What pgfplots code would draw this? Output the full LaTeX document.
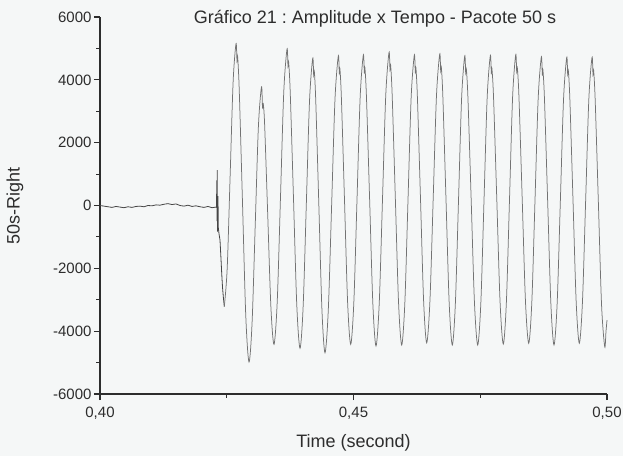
\documentclass[border=0pt]{standalone}
\usepackage{pgfplots}
\pgfplotsset{compat=1.18}
\usepackage{fontspec}
\setmainfont{Liberation Sans}
\frenchspacing
\definecolor{bg}{RGB}{245,247,247}
\definecolor{axc}{RGB}{45,45,45}
\definecolor{sig}{RGB}{115,115,115}
\definecolor{sigdark}{RGB}{70,70,70}
\begin{document}
\begin{tikzpicture}
\path[fill=bg,use as bounding box] (-100pt,-62pt) rectangle (523pt,394pt);
\begin{axis}[
  at={(0pt,0pt)}, anchor=south west,
  scale only axis, width=507pt, height=377pt,
  xmin=0.40, xmax=0.50, ymin=-6000, ymax=6000,
  axis lines=left, axis line style={-, axc, line width=1.1pt},
  tick align=outside,
  major tick length=6pt, minor tick length=3.5pt,
  every tick/.style={axc, line width=1.1pt},
  xtick={0.40,0.45,0.50}, xticklabels={{0,40},{0,45},{0,50}},
  minor xtick={0.425,0.475},
  ytick={-6000,-4000,-2000,0,2000,4000,6000},
  yticklabels={-6000,-4000,-2000,0,2000,4000,6000},
  minor ytick={-5000,-3000,-1000,1000,3000,5000},
  ticklabel style={font=\fontsize{15}{17}\selectfont, text=axc},
  xticklabel style={yshift=-3pt},
  yticklabel style={xshift=1pt},
  xlabel={Time (second)}, ylabel={50s-Right},
  every axis x label/.style={at={(axis description cs:0.5,0)}, anchor=base, yshift=-53pt, font=\fontsize{18}{20}\selectfont, text=axc},
  every axis y label/.style={at={(axis description cs:-0.1677,0.5)}, anchor=center, rotate=90, font=\fontsize{18}{20}\selectfont, text=axc},
  clip=false,
]
\addplot[sigdark, line width=0.8pt] coordinates {
(0.400000,0) (0.400789,-20) (0.401578,-40) (0.402367,-60) (0.403156,-30)
(0.403945,-50) (0.404734,-70) (0.405523,-40) (0.406312,-60) (0.407101,-30)
(0.407890,-20) (0.408679,-40) (0.409468,0) (0.410256,-10) (0.411045,20)
(0.411834,10) (0.412623,40) (0.413412,60) (0.414201,30) (0.414990,50)
(0.415779,0) (0.416568,-20) (0.417357,10) (0.418146,-30) (0.418935,-10)
(0.419724,-40) (0.420513,-60) (0.421302,-30) (0.422091,-70) (0.422880,-50)
(0.422978,-60) (0.423038,800) (0.423077,-500) (0.423117,1130) (0.423176,-830)
(0.423274,300) (0.423333,-700) (0.423472,-900) (0.423669,-1100) (0.423866,-1700)
(0.424004,-2150) (0.424162,-2600) (0.424320,-2900) (0.424517,-3220)
};
\addplot[sig, line width=0.75pt, smooth] coordinates {
(0.424517,-3220) (0.425089,-1994) (0.425671,965) (0.426253,3924)
(0.426825,5150) (0.427022,4600) (0.427140,4750) (0.427466,3666) (0.428107,85) (0.428748,-3496)
(0.429389,-4980) (0.430005,-3697) (0.430622,-600) (0.431238,2497)
(0.431854,3780) (0.432052,3100) (0.432190,3250) (0.432471,2579) (0.433087,-320) (0.433703,-3219)
(0.434320,-4420) (0.434961,-3043) (0.435602,280) (0.436243,3603)
(0.436884,4980) (0.437081,4430) (0.437199,4580) (0.437525,3585) (0.438166,218) (0.438807,-3149)
(0.439448,-4545) (0.440074,-3193) (0.440700,70) (0.441327,3333)
(0.441953,4685) (0.442150,4135) (0.442269,4285) (0.442559,3312) (0.443166,0) (0.443772,-3312)
(0.444379,-4685) (0.445035,-3301) (0.445691,38) (0.446347,3377)
(0.447002,4760) (0.447200,4210) (0.447318,4360) (0.447614,3415) (0.448225,170) (0.448837,-3075)
(0.449448,-4420) (0.450069,-3071) (0.450691,185) (0.451312,3441)
(0.451933,4790) (0.452131,4240) (0.452249,4390) (0.452560,3433) (0.453186,160) (0.453812,-3113)
(0.454438,-4470) (0.455079,-3101) (0.455720,203) (0.456361,3507)
(0.457002,4875) (0.457200,4325) (0.457318,4475) (0.457629,3511) (0.458255,218) (0.458881,-3075)
(0.459507,-4440) (0.460129,-3088) (0.460750,175) (0.461371,3438)
(0.461993,4790) (0.462190,4240) (0.462308,4390) (0.462604,3448) (0.463215,210) (0.463827,-3028)
(0.464438,-4370) (0.465079,-3024) (0.465720,225) (0.466361,3474)
(0.467002,4820) (0.467200,4270) (0.467318,4420) (0.467624,3463) (0.468245,190) (0.468866,-3083)
(0.469488,-4440) (0.470099,-3092) (0.470711,160) (0.471322,3412)
(0.471933,4760) (0.472131,4210) (0.472249,4360) (0.472574,3412) (0.473215,160) (0.473857,-3092)
(0.474498,-4440) (0.475119,-3091) (0.475740,165) (0.476361,3421)
(0.476983,4770) (0.477180,4220) (0.477298,4370) (0.477624,3425) (0.478265,180) (0.478906,-3065)
(0.479547,-4410) (0.480158,-3061) (0.480770,195) (0.481381,3451)
(0.481993,4800) (0.482190,4250) (0.482308,4400) (0.482634,3455) (0.483275,208) (0.483916,-3039)
(0.484557,-4385) (0.485178,-3050) (0.485799,170) (0.486421,3390)
(0.487042,4725) (0.487239,4175) (0.487358,4325) (0.487668,3383) (0.488294,143) (0.488921,-3097)
(0.489547,-4440) (0.490173,-3098) (0.490799,138) (0.491426,3374)
(0.492052,4715) (0.492249,4165) (0.492367,4315) (0.492673,3382) (0.493295,165) (0.493916,-3052)
(0.494537,-4385) (0.495163,-3052) (0.495790,165) (0.496416,3382)
(0.497042,4715) (0.497239,4165) (0.497358,4315) (0.497668,3366) (0.498295,110) (0.498921,-3146)
(0.499547,-4495) (0.499803,-4000) (0.500000,-3650)
};
\node[anchor=base, font=\fontsize{18}{20}\selectfont, text=axc] at (axis cs:0.45424,5809) {Gráfico 21 : Amplitude x Tempo - Pacote 50 s};
\end{axis}
\end{tikzpicture}
\end{document}
